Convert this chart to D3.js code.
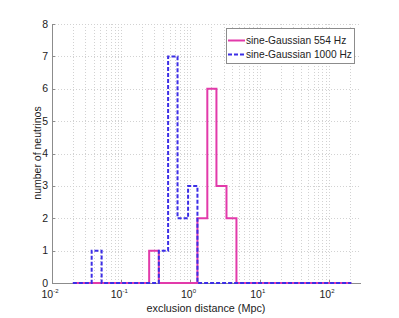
<!DOCTYPE html>
<html>
<head>
<meta charset="utf-8">
<script src="https://cdn.jsdelivr.net/npm/d3@7"></script>
<style>
  body { margin: 0; background: #fff; }
  text { font-family: "Liberation Sans", Arial, sans-serif; fill: #222; }
</style>
</head>
<body>
<svg width="399" height="318"></svg>
<script>
// bin edges (Mpc) shared by both histograms
var binEdges = [0.02, 0.0374, 0.0521, 0.253, 0.349, 0.475, 0.650, 0.923, 1.26, 1.75, 2.37, 3.31, 4.61, 210];
// counts per bin
var counts554 = [0, 0, 0, 1, 0, 0, 0, 0, 2, 6, 3, 2, 0];
var counts1000 = [0, 1, 0, 0, 1, 7, 2, 3, 0, 0, 0, 0, 0];
var seriesNames = ["sine-Gaussian 554 Hz", "sine-Gaussian 1000 Hz"];
var yTicks = [0, 1, 2, 3, 4, 5, 6, 7, 8];
var xDecades = [-2, -1, 0, 1, 2];

var svg = d3.select("svg"),
    plotL = 52, plotR = 361, plotT = 24, plotB = 283;

var x = d3.scaleLog().domain([0.01, 290]).range([plotL, plotR]);
var y = d3.scaleLinear().domain([0, 8]).range([plotB, plotT]);

// grid
var grid = svg.append("g").attr("stroke", "#d2d2d2").attr("stroke-dasharray", "1,2").attr("stroke-width", 1);
var gridX = [];
xDecades.forEach(function(e) {
  for (var m = 1; m < 10; m++) {
    var v = m * Math.pow(10, e);
    if (v > 0.01 && v <= 290) gridX.push(v);
  }
});
grid.selectAll("line.gx").data(gridX).enter().append("line")
    .attr("x1", function(d) { return Math.round(x(d)) + 0.5; })
    .attr("x2", function(d) { return Math.round(x(d)) + 0.5; })
    .attr("y1", plotT).attr("y2", plotB);
grid.selectAll("line.gy").data(yTicks.slice(1)).enter().append("line")
    .attr("x1", plotL).attr("x2", plotR)
    .attr("y1", function(d) { return Math.round(y(d)) + 0.5; })
    .attr("y2", function(d) { return Math.round(y(d)) + 0.5; });

// axes lines
var ax = svg.append("g").attr("stroke", "#8c8c8c").attr("stroke-width", 1);
ax.append("line").attr("x1", plotL + 0.5).attr("x2", plotL + 0.5).attr("y1", plotT).attr("y2", plotB + 0.5);
ax.append("line").attr("x1", plotL).attr("x2", plotR).attr("y1", plotB + 0.5).attr("y2", plotB + 0.5);
ax.selectAll("line.ty").data(yTicks).enter().append("line")
    .attr("x1", plotL).attr("x2", plotL + 3)
    .attr("y1", function(d) { return Math.round(y(d)) + 0.5; })
    .attr("y2", function(d) { return Math.round(y(d)) + 0.5; });
ax.selectAll("line.tx").data(xDecades).enter().append("line")
    .attr("x1", function(d) { return Math.round(x(Math.pow(10, d))) + 0.5; })
    .attr("x2", function(d) { return Math.round(x(Math.pow(10, d))) + 0.5; })
    .attr("y1", plotB).attr("y2", plotB - 3);

// tick labels
svg.selectAll("text.yl").data(yTicks).enter().append("text")
    .attr("x", plotL - 4).attr("y", function(d) { return y(d) + 3.5; })
    .attr("text-anchor", "end").attr("font-size", 10.5)
    .text(function(d) { return d; });

var xl = svg.selectAll("text.xl").data(xDecades).enter().append("text")
    .attr("x", function(d) { return x(Math.pow(10, d)) - 2; })
    .attr("y", 298).attr("text-anchor", "middle").attr("font-size", 10.5);
xl.append("tspan").text("10");
xl.append("tspan").attr("font-size", 6).attr("dy", -5).text(function(d) { return d; });

svg.append("text").attr("x", 206).attr("y", 312).attr("text-anchor", "middle")
    .attr("font-size", 10.8).text("exclusion distance (Mpc)");
svg.append("text").attr("transform", "translate(41,153) rotate(-90)")
    .attr("text-anchor", "middle").attr("font-size", 10.5).text("number of neutrinos");

// histograms as stairs
function stairs(counts) {
  var pts = counts.map(function(c, i) { return [binEdges[i], c]; });
  pts.push([binEdges[binEdges.length - 1], 0]);
  return pts;
}
var line = d3.line().curve(d3.curveStepAfter)
    .x(function(d) { return x(d[0]); })
    .y(function(d) { return y(d[1]); });

var colors = ["#e23aaa", "#3c2ee6"];
var dashes = [null, "4,2"];
[counts554, counts1000].forEach(function(c, i) {
  svg.append("path").datum(stairs(c))
      .attr("d", line)
      .attr("fill", "none")
      .attr("stroke", colors[i])
      .attr("stroke-width", 2)
      .attr("stroke-dasharray", dashes[i]);
});

// legend
var lg = svg.append("g");
lg.append("rect").attr("x", 226.5).attr("y", 28.5).attr("width", 128).attr("height", 35)
    .attr("fill", "#fff").attr("stroke", "#8c8c8c");
seriesNames.forEach(function(n, i) {
  var yy = 40.5 + i * 14;
  lg.append("line").attr("x1", 228).attr("x2", 245).attr("y1", yy).attr("y2", yy)
      .attr("stroke", colors[i]).attr("stroke-width", 2).attr("stroke-dasharray", dashes[i]);
  lg.append("text").attr("x", 246).attr("y", yy + 3.5).attr("font-size", 10.2).text(n);
});
</script>
</body>
</html>
